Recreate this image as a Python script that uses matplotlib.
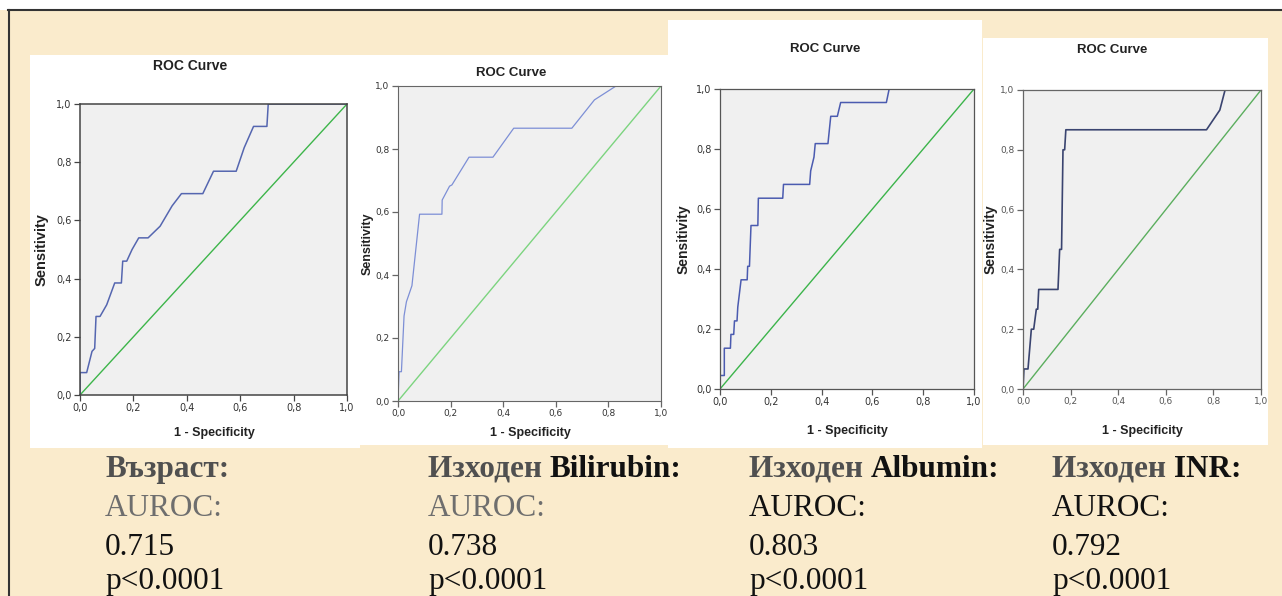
import matplotlib
matplotlib.use("Agg")
import matplotlib.pyplot as plt
from matplotlib.patches import Rectangle

# ROC curve points (1 - specificity, sensitivity) for each predictor
age_fpr = [0, 0, 0.025, 0.045, 0.055, 0.060, 0.075, 0.10, 0.13, 0.155, 0.16, 0.175,
           0.195, 0.22, 0.255, 0.30, 0.345, 0.38, 0.46, 0.50, 0.585, 0.615, 0.65,
           0.70, 0.705, 1.0]
age_tpr = [0, 0.077, 0.077, 0.15, 0.16, 0.27, 0.27, 0.31, 0.385, 0.385, 0.46, 0.46,
           0.50, 0.54, 0.54, 0.58, 0.65, 0.692, 0.692, 0.769, 0.769, 0.85, 0.923,
           0.923, 1.0, 1.0]

bili_fpr = [0, 0.004, 0.013, 0.023, 0.032, 0.053, 0.082, 0.167, 0.168, 0.196, 0.205,
            0.27, 0.361, 0.44, 0.661, 0.747, 0.829, 1.0]
bili_tpr = [0, 0.093, 0.093, 0.27, 0.315, 0.366, 0.593, 0.593, 0.638, 0.682, 0.686,
            0.774, 0.774, 0.866, 0.866, 0.956, 1.0, 1.0]

alb_fpr = [0, 0, 0.017, 0.017, 0.041, 0.043, 0.054, 0.057, 0.067, 0.07, 0.083, 0.107,
           0.109, 0.116, 0.122, 0.149, 0.151, 0.247, 0.25, 0.353, 0.357, 0.37, 0.375,
           0.425, 0.436, 0.462, 0.475, 0.655, 0.666, 1.0]
alb_tpr = [0, 0.045, 0.045, 0.136, 0.136, 0.182, 0.182, 0.227, 0.227, 0.273, 0.364,
           0.364, 0.409, 0.409, 0.545, 0.545, 0.636, 0.636, 0.682, 0.682, 0.727, 0.773,
           0.818, 0.818, 0.909, 0.909, 0.955, 0.955, 1.0, 1.0]

inr_fpr = [0, 0.004, 0.021, 0.028, 0.035, 0.045, 0.056, 0.062, 0.066, 0.147, 0.154,
           0.162, 0.168, 0.175, 0.18, 0.771, 0.827, 0.849, 1.0]
inr_tpr = [0, 0.067, 0.067, 0.133, 0.2, 0.2, 0.267, 0.267, 0.333, 0.333, 0.467,
           0.467, 0.8, 0.8, 0.867, 0.867, 0.933, 1.0, 1.0]

tick_vals = [0.0, 0.2, 0.4, 0.6, 0.8, 1.0]
tick_text = ["0,0", "0,2", "0,4", "0,6", "0,8", "1,0"]

# captions under each chart
names_gray = ["Възраст:", "Изходен ", "Изходен ", "Изходен "]
names_black = ["", "Bilirubin:", "Albumin:", "INR:"]
auroc = ["0.715", "0.738", "0.803", "0.792"]
pvals = ["p<0.0001", "p<0.0001", "p<0.0001", "p<0.0001"]

W, H = 1282, 596
fig = plt.figure(figsize=(W / 100, H / 100), dpi=100)
fig.patch.set_facecolor("#FAEBCC")

# full-figure pixel canvas for the frame, white chart cards and captions
bg = fig.add_axes([0, 0, 1, 1])
bg.set_xlim(0, W)
bg.set_ylim(H, 0)
bg.axis("off")
bg.add_patch(Rectangle((0, 0), W, 10, facecolor="white", edgecolor="none"))
bg.plot([8, W], [10, 10], color="#333333", lw=1.5)
bg.plot([8.5, 8.5], [10, H], color="#333333", lw=1.5)

cards = [(30, 55, 330, 393), (358, 55, 310, 390), (668, 20, 314, 428), (983, 38, 285, 407)]
for x, y, w, h in cards:
    bg.add_patch(Rectangle((x, y), w, h, facecolor="white", edgecolor="none"))

# plot boxes: left, right, top, bottom in pixels
boxes = [(80, 347, 104, 395), (398, 661, 86, 401), (720, 974, 89, 389), (1023, 1261, 90, 389)]
curves = [(age_fpr, age_tpr), (bili_fpr, bili_tpr), (alb_fpr, alb_tpr), (inr_fpr, inr_tpr)]
curve_col = ["#5566B0", "#7D8FD6", "#4B5BB0", "#3A4470"]
diag_col = ["#3DB54A", "#7CD47F", "#3CB44B", "#5BAE5E"]
curve_lw = [1.1, 0.9, 1.1, 1.2]
spine_col = ["#444444", "#666666", "#555555", "#666666"]
spine_lw = [1.1, 0.8, 0.9, 0.9]
title_pos = [(190, 66), (511, 73), (825, 49), (1112, 50)]
title_fs = [10, 9.5, 9.5, 9.5]
xlab_pos = [(214, 433), (530, 433), (847, 431), (1142, 431)]
ylab_x = [42, 368, 684, 991]
ylab_fs = [10.5, 9, 10, 10]
tick_fs = [7, 6.5, 7, 6.5]
tick_col = ["#333333", "#333333", "#333333", "#555555"]

for i, (l, r, t, b) in enumerate(boxes):
    ax = fig.add_axes([l / W, 1 - b / H, (r - l) / W, (b - t) / H])
    ax.set_facecolor("#F0F0F0")
    fx, fy = curves[i]
    ax.plot([0, 1], [0, 1], color=diag_col[i], lw=1.0)
    ax.plot(fx, fy, color=curve_col[i], lw=curve_lw[i])
    ax.set_xlim(0, 1)
    ax.set_ylim(0, 1)
    ax.set_xticks(tick_vals)
    ax.set_xticklabels(tick_text)
    ax.set_yticks(tick_vals)
    ax.set_yticklabels(tick_text)
    ax.tick_params(direction="out", length=4, width=0.9, color=spine_col[i],
                   labelsize=tick_fs[i], labelcolor=tick_col[i], pad=2)
    for s in ax.spines.values():
        s.set_color(spine_col[i])
        s.set_linewidth(spine_lw[i])

    tx, ty = title_pos[i]
    bg.text(tx, ty, "ROC Curve", ha="center", va="center", fontsize=title_fs[i],
            fontweight="bold", family="Liberation Sans", color="#222222")
    lx, ly = xlab_pos[i]
    bg.text(lx, ly, "1 - Specificity", ha="center", va="center", fontsize=9,
            fontweight="bold", family="Liberation Sans", color="#222222")
    bg.text(ylab_x[i], (t + b) / 2, "Sensitivity", ha="center", va="center",
            rotation=90, fontsize=ylab_fs[i], fontweight="bold",
            family="Liberation Sans", color="#222222")

# captions
col_x = [105, 428, 749, 1052]
base_y = [477, 516, 555, 589]
cap_fs = 22.5
serif = dict(family="Liberation Serif", fontsize=cap_fs, va="baseline", ha="left")
auroc_col = ["#6E6E6E", "#6E6E6E", "#111111", "#111111"]
for i, x in enumerate(col_x):
    first = bg.text(x, base_y[0], names_gray[i], color="#505050", fontweight="bold", **serif)
    if names_black[i]:
        bg.annotate(names_black[i], xy=(1, 0), xycoords=first, xytext=(0, 0),
                    textcoords="offset points", color="#111111", fontweight="bold",
                    family="Liberation Serif", fontsize=cap_fs, va="bottom", ha="left")
    bg.text(x, base_y[1], "AUROC:", color=auroc_col[i], **serif)
    bg.text(x, base_y[2], auroc[i], color="#111111", **serif)
    bg.text(x, base_y[3], pvals[i], color="#111111", **serif)

fig.savefig("out.png", dpi=100, facecolor=fig.get_facecolor())
